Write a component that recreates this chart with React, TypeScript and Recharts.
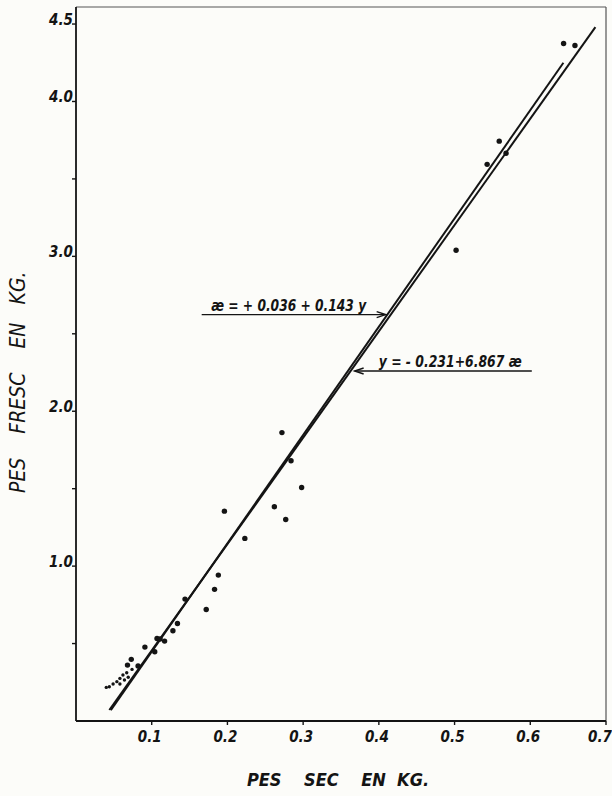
import React from 'react';
import {
  ComposedChart,
  Scatter,
  XAxis,
  YAxis,
  ReferenceLine,
  Label,
} from 'recharts';

// pes sec / pes fresc (kg), punts grossos
const dryKg = [
  0.082, 0.073, 0.068, 0.091, 0.104, 0.107, 0.111, 0.117, 0.128, 0.134, 0.144,
  0.172, 0.183, 0.188, 0.196, 0.223, 0.262, 0.277, 0.272, 0.284, 0.298, 0.502,
  0.543, 0.559, 0.568, 0.644, 0.659,
];
const freshKg = [
  0.355, 0.398, 0.361, 0.477, 0.447, 0.533, 0.529, 0.516, 0.583, 0.63, 0.787,
  0.72, 0.85, 0.942, 1.355, 1.179, 1.383, 1.301, 1.862, 1.68, 1.508, 3.039,
  3.594, 3.744, 3.666, 4.374, 4.361,
];
// grup de punts petits a baix
const smallDryKg = [0.040, 0.044, 0.049, 0.054, 0.058, 0.058, 0.064, 0.062, 0.069, 0.067, 0.074];
const smallFreshKg = [0.217, 0.221, 0.239, 0.254, 0.239, 0.275, 0.265, 0.297, 0.282, 0.312, 0.333];

// rectes de regressio
const yOnX = [-0.231, 6.867]; // y = a + b x
const yOnXSpan = [0.044, 0.686];
const xOnY = [0.036, 0.143]; // x = a + b y
const xOnYSpan = [0.07, 4.25];

const calloutText = ['æ = + 0.036 + 0.143 y', 'y = - 0.231+6.867 æ'];
const calloutY = [2.624, 2.26];
const calloutTail = [0.166, 0.602];
const calloutTip = [0.409, 0.368];
const calloutShift = [-5, 7];
const calloutWidth = [155, 143];

const xTicks = [0.1, 0.2, 0.3, 0.4, 0.5, 0.6, 0.7];
const xTickLabels = ['0.1', '0.2', '0.3', '0.4', '0.5', '0.6', '0.7'];
const yTicks = [0.5, 1, 1.5, 2, 2.5, 3, 3.5, 4, 4.5];
const yTickLabels = ['', '1.0', '', '2.0', '', '3.0', '', '4.0', '4.5'];
const xMax = 0.7;
const yMax = 4.61;

const ink = '#141414';
const hand = {
  fontFamily: '"DejaVu Sans Condensed", "DejaVu Sans", sans-serif',
  fontStyle: 'italic' as const,
  fontWeight: 700,
  fill: ink,
};

const big = dryKg.map((x, i) => ({ x, y: freshKg[i] }));
const small = smallDryKg.map((x, i) => ({ x, y: smallFreshKg[i] }));

const XTick = (p: any) => (
  <text x={p.x - 2} y={p.y + 17} textAnchor="middle" style={{ ...hand, fontSize: 15 }}>
    {xTickLabels[p.index]}
  </text>
);

const YTick = (p: any) => (
  <text x={p.x + 1} y={p.y + 1} textAnchor="end" style={{ ...hand, fontSize: 15 }}>
    {yTickLabels[p.index]}
  </text>
);

const Dot = (r: number) => (p: any) => <circle cx={p.cx} cy={p.cy} r={r} fill={ink} />;

const callout = (i: number) => (p: any) => {
  const { x1, y1, x2, y2 } = p;
  const dir = x2 > x1 ? 1 : -1;
  return (
    <g>
      <line x1={x1} y1={y1} x2={x2} y2={y2} stroke={ink} strokeWidth={1.4} />
      <path
        d={`M${x2 - dir * 9},${y2 - 3} L${x2},${y2} L${x2 - dir * 9},${y2 + 3}`}
        fill="none"
        stroke={ink}
        strokeWidth={1.4}
      />
      <text
        x={(x1 + x2) / 2 + calloutShift[i]}
        y={y1 - 4}
        textAnchor="middle"
        textLength={calloutWidth[i]}
        lengthAdjust="spacingAndGlyphs"
        style={{ ...hand, fontSize: 16.5 }}
      >
        {calloutText[i]}
      </text>
    </g>
  );
};

export default function App() {
  return (
    <div style={{ position: 'absolute', left: 0, top: 0, background: '#fcfcf9' }}>
      <ComposedChart
        width={612}
        height={796}
        margin={{ top: 7, right: 6, bottom: 0, left: 0 }}
      >
        <XAxis
          type="number"
          dataKey="x"
          domain={[0, xMax]}
          ticks={xTicks}
          tick={XTick}
          tickSize={4}
          tickMargin={0}
          height={75}
          axisLine={{ stroke: ink, strokeWidth: 1.8 }}
          tickLine={{ stroke: ink, strokeWidth: 1.4 }}
          allowDataOverflow
        >
          <Label
            content={(p: any) => (
              <text
                x={p.viewBox.x + p.viewBox.width / 2 - 3}
                y={p.viewBox.y + 65}
                textAnchor="middle"
                style={{ ...hand, fontSize: 18, whiteSpace: 'pre' }}
              >
                {'PES    SEC    EN  KG.'}
              </text>
            )}
          />
        </XAxis>
        <YAxis
          type="number"
          dataKey="y"
          domain={[0, yMax]}
          ticks={yTicks}
          tick={YTick}
          tickSize={4}
          tickMargin={0}
          width={76}
          axisLine={{ stroke: ink, strokeWidth: 1.8 }}
          tickLine={{ stroke: ink, strokeWidth: 1.4 }}
          allowDataOverflow
        >
          <Label
            content={() => {
              const cx = 18;
              const cy = 493;
              return (
                <text
                  x={cx}
                  y={cy}
                  textAnchor="start"
                  dominantBaseline="central"
                  transform={`rotate(-90 ${cx} ${cy})`}
                  style={{ ...hand, fontWeight: 400, fontSize: 21, whiteSpace: 'pre' }}
                >
                  {'PES    FRESC    EN   KG.'}
                </text>
              );
            }}
          />
        </YAxis>
        <ReferenceLine y={yMax} stroke="#555" strokeWidth={1} />
        <ReferenceLine x={xMax} stroke="#555" strokeWidth={1.2} />
        <ReferenceLine
          segment={yOnXSpan.map((x) => ({ x, y: yOnX[0] + yOnX[1] * x }))}
          stroke={ink}
          strokeWidth={2}
        />
        <ReferenceLine
          segment={xOnYSpan.map((y) => ({ x: xOnY[0] + xOnY[1] * y, y }))}
          stroke={ink}
          strokeWidth={2}
        />
        {calloutY.map((y, i) => (
          <ReferenceLine
            key={i}
            segment={[
              { x: calloutTail[i], y },
              { x: calloutTip[i], y },
            ]}
            shape={callout(i)}
          />
        ))}
        <Scatter data={big} shape={Dot(2.7)} isAnimationActive={false} />
        <Scatter data={small} shape={Dot(1.7)} isAnimationActive={false} />
      </ComposedChart>
    </div>
  );
}
